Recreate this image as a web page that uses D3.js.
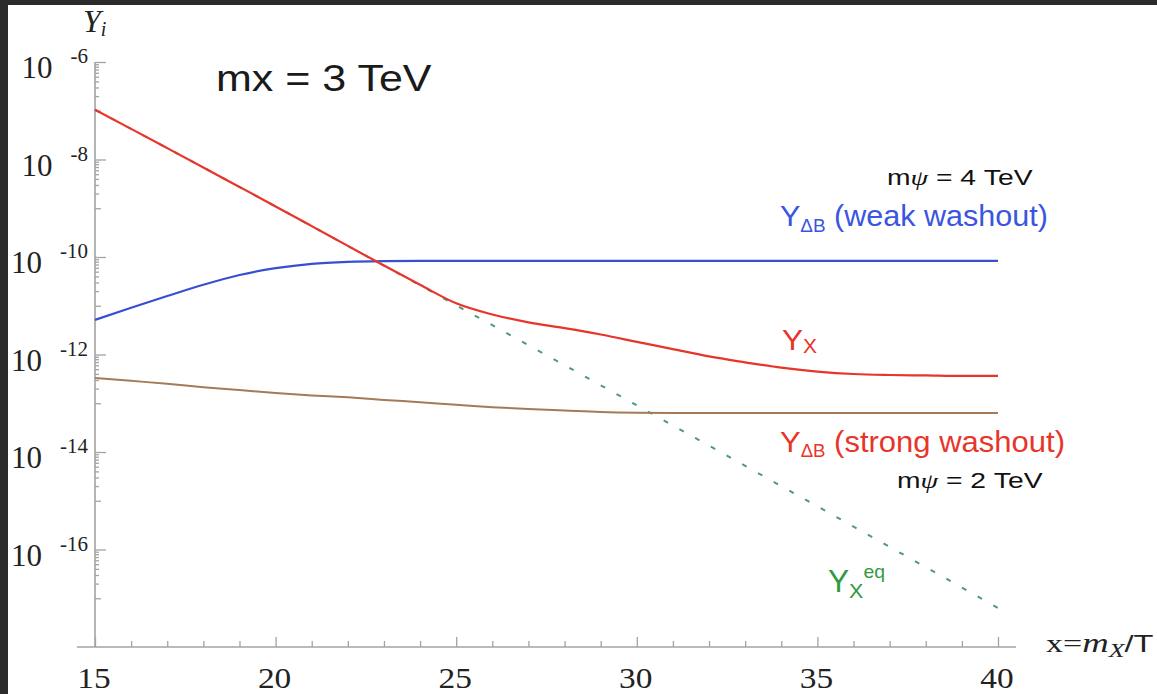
<!DOCTYPE html>
<html>
<head>
<meta charset="utf-8">
<script src="https://cdn.jsdelivr.net/npm/d3@7"></script>
<style>
  html, body { margin: 0; padding: 0; background: #2b2b2b; }
  svg { display: block; }
</style>
</head>
<body>
<svg id="chart" width="1157" height="694"></svg>
<script>
// ---------------- data ----------------
const xValues = [15,16,17,18,19,20,21,22,23,24,25,26,27,28,29,30,31,32,33,34,35,36,37,38,39,40];

// Y_X (red)
const yX = [1.05e-7,4.25e-8,1.71e-8,6.86e-9,2.74e-9,1.09e-9,4.30e-10,1.69e-10,6.67e-11,2.69e-11,
            1.12e-11,6.61e-12,4.57e-12,3.47e-12,2.57e-12,1.82e-12,1.29e-12,9.12e-13,6.92e-13,5.37e-13,
            4.47e-13,3.98e-13,3.80e-13,3.72e-13,3.63e-13,3.63e-13];
// Y_X^eq (green dashed)
const yXeq = [1.05e-7,4.25e-8,1.71e-8,6.86e-9,2.74e-9,1.09e-9,4.30e-10,1.69e-10,6.67e-11,2.62e-11,
              1.02e-11,3.99e-12,1.55e-12,6.04e-13,2.34e-13,9.06e-14,3.50e-14,1.35e-14,5.20e-15,2.00e-15,
              7.69e-16,2.95e-16,1.13e-16,4.34e-17,1.66e-17,6.32e-18];
// Y_DeltaB weak washout (blue)
const yWeak = [5.13e-12,9.12e-12,1.58e-11,2.69e-11,4.27e-11,5.89e-11,7.24e-11,7.94e-11,8.22e-11,8.3e-11,
               8.3e-11,8.3e-11,8.3e-11,8.3e-11,8.3e-11,8.3e-11,8.3e-11,8.3e-11,8.3e-11,8.3e-11,
               8.3e-11,8.3e-11,8.3e-11,8.3e-11,8.3e-11,8.3e-11];
// Y_DeltaB strong washout (brown)
const yStrong = [3.31e-13,2.88e-13,2.51e-13,2.14e-13,1.86e-13,1.62e-13,1.45e-13,1.32e-13,1.17e-13,1.05e-13,
                 9.33e-14,8.32e-14,7.59e-14,7.08e-14,6.61e-14,6.38e-14,6.31e-14,6.31e-14,6.31e-14,6.31e-14,
                 6.31e-14,6.31e-14,6.31e-14,6.31e-14,6.31e-14,6.31e-14];

const xMajorTicks = [15,20,25,30,35,40];
const xMinorTicks = [16,17,18,19,21,22,23,24,26,27,28,29,31,32,33,34,36,37,38,39];
const yExponents = [-6,-8,-10,-12,-14,-16];

// ---------------- setup ----------------
const svg = d3.select('#chart');
const W = 1157, H = 694;
const SERIF = "'Liberation Serif','DejaVu Serif',serif";
const SANS = "'Liberation Sans',Arial,sans-serif";

svg.append('rect').attr('x',0).attr('y',0).attr('width',W).attr('height',H).attr('fill','#2b2b2b');
svg.append('rect').attr('x',8).attr('y',5).attr('width',W-8).attr('height',H-5).attr('fill','#ffffff');

const x = d3.scaleLinear().domain([15,40]).range([95,998]);
const y = d3.scaleLog().domain([1e-18,1e-6]).range([647,62]);

const AX = '#a3a3a3';

// axis lines
svg.append('line').attr('x1', x(14.5)).attr('x2', x(40.5)).attr('y1', y(1e-18)).attr('y2', y(1e-18))
   .attr('stroke', AX).attr('stroke-width', 1.6);
svg.append('line').attr('x1', x(15)).attr('x2', x(15)).attr('y1', y(1e-18)).attr('y2', y(1e-6))
   .attr('stroke', AX).attr('stroke-width', 1.6);

// x ticks via d3 axis (pointing up)
function styleAxis(g){ g.select('.domain').remove(); g.selectAll('.tick line').attr('stroke', AX).attr('stroke-width',1.3); g.selectAll('.tick text').remove(); }
svg.append('g').attr('transform',`translate(0,${y(1e-18)})`)
   .call(d3.axisBottom(x).tickValues(xMajorTicks).tickSize(-10)).call(styleAxis);
svg.append('g').attr('transform',`translate(0,${y(1e-18)})`)
   .call(d3.axisBottom(x).tickValues(xMinorTicks).tickSize(-6)).call(styleAxis);

// y ticks
const yMajor = yExponents.map(e => Math.pow(10, e));
const yMinorK1 = [], yMinor = [];
yExponents.forEach(e => {
  yMinorK1.push(Math.pow(10, e-1));
  for (let k = 2; k <= 9; k++) yMinor.push(k * Math.pow(10, e-1));
});
svg.append('g').attr('transform',`translate(${x(15)},0)`)
   .call(d3.axisLeft(y).tickValues(yMajor).tickSize(-11)).call(styleAxis);
svg.append('g').attr('transform',`translate(${x(15)},0)`)
   .call(d3.axisLeft(y).tickValues(yMinorK1).tickSize(-6)).call(styleAxis);
svg.append('g').attr('transform',`translate(${x(15)},0)`)
   .call(d3.axisLeft(y).tickValues(yMinor).tickSize(-4)).call(styleAxis);

// ---------------- text helper ----------------
function addText(px, py, parts, opts = {}) {
  const t = svg.append('text').attr('x', px).attr('y', py)
    .attr('font-family', opts.family || SANS)
    .attr('fill', opts.color || '#1a1a1a')
    .attr('text-anchor', opts.anchor || 'start');
  parts.forEach(p => {
    const s = t.append('tspan').attr('font-size', p.size).text(p.t);
    if (p.dy) s.attr('dy', p.dy);
    if (p.dx) s.attr('dx', p.dx);
    if (p.italic) s.attr('font-style', 'italic');
    if (p.family) s.attr('font-family', p.family);
  });
  let sx = opts.scale || null;
  if (opts.width) { const b = t.node().getBBox(); sx = opts.width / b.width; }
  if (sx) t.attr('transform', `translate(${px},0) scale(${sx},1) translate(${-px},0)`);
  return t;
}

// x tick labels
xMajorTicks.forEach(v => addText(x(v) - 1, 688, [{t: String(v), size: 29}], {family: SERIF, anchor: 'middle', color: '#222', scale: 1.15}));

// y tick labels 10^e
yExponents.forEach(e => {
  const py = y(Math.pow(10, e));
  addText(88, py + 16, [
    {t: '10', size: 31},
    {t: String(e), size: 21, dx: 18, dy: -15}
  ], {family: SERIF, anchor: 'end', color: '#222'});
});

// axis labels
addText(83, 32, [{t: 'Y', size: 32, italic: true}, {t: 'i', size: 20, italic: true, dy: 4}], {family: SERIF, color: '#222'});
addText(1046, 652, [
  {t: 'x=', size: 25},
  {t: 'm', size: 27, italic: true},
  {t: 'X', size: 19, italic: true, dy: 5},
  {t: '/T', size: 24, dy: -5, family: SANS}
], {family: SERIF, color: '#222', width: 108});

// ---------------- lines ----------------
const line = arr => d3.line().x((d, i) => x(xValues[i])).y(d => y(d)).curve(d3.curveMonotoneX)(arr);

svg.append('path').attr('d', line(yXeq)).attr('fill','none').attr('stroke','#4f9a78')
   .attr('stroke-width', 2).attr('stroke-dasharray','5,13');
svg.append('path').attr('d', line(yStrong)).attr('fill','none').attr('stroke','#a47b58').attr('stroke-width', 2);
svg.append('path').attr('d', line(yWeak)).attr('fill','none').attr('stroke','#3a4ed2').attr('stroke-width', 2.2);
svg.append('path').attr('d', line(yX)).attr('fill','none').attr('stroke','#e8352b').attr('stroke-width', 2.2);

// ---------------- annotations ----------------
addText(216, 91, [{t: 'mx = 3 TeV', size: 37}], {width: 216, color: '#1a1a1a'});
addText(887, 185, [{t: 'm', size: 22}, {t: 'ψ', size: 22, italic: true, family: SERIF}, {t: ' = 4 TeV', size: 22}], {width: 146, color: '#111'});
addText(780, 226, [{t: 'Y', size: 29}, {t: 'ΔB', size: 18, dy: 6}, {t: ' (weak washout)', size: 29, dy: -6}], {width: 268, color: '#3a55e0'});
addText(782, 350, [{t: 'Y', size: 30}, {t: 'X', size: 20, dy: 3}], {width: 35, color: '#e8352b'});
addText(780, 452, [{t: 'Y', size: 30}, {t: 'ΔB', size: 18, dy: 5}, {t: ' (strong washout)', size: 30, dy: -5}], {width: 285, color: '#e8352b'});
addText(897, 488, [{t: 'm', size: 22}, {t: 'ψ', size: 22, italic: true, family: SERIF}, {t: ' = 2 TeV', size: 22}], {width: 146, color: '#111'});
addText(828, 592, [{t: 'Y', size: 31}, {t: 'X', size: 21, dy: 6}, {t: 'eq', size: 19, dy: -20}], {width: 57, color: '#2f9a40'});
</script>
</body>
</html>
